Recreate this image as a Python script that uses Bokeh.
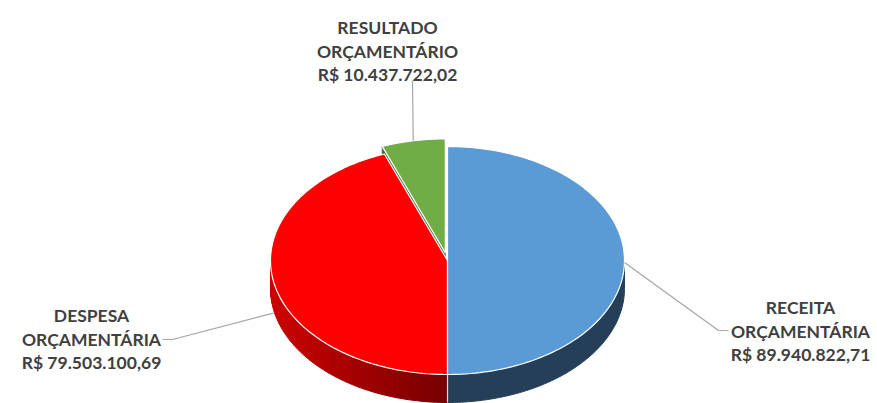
import numpy as np
from bokeh.plotting import figure
from bokeh.models import Range1d
from bokeh.embed import file_html
from bokeh.resources import INLINE
from bokeh.core.properties import value

# ---- data ----
categories = ["RECEITA", "DESPESA", "RESULTADO"]
label_line2 = ["ORÇAMENTÁRIA", "ORÇAMENTÁRIA", "ORÇAMENTÁRIO"]
values = [89940822.71, 79503100.69, 10437722.02]

# ---- style / layout ----
top_colors = ["#5B9BD5", "#FF0000", "#70AD47"]
cut_colors = ["#2A4A6A", "#8A0000", "#3F6A27"]
explode = [0, 0, 12]
W, H = 877, 403
cx, cy, rx, ry, depth = 447, 260, 177, 114, 28
label_pos = [(800, 307), (91, 315), (387, 27)]   # centre x, baseline of first line
elbow = [((728, 330), (718, 330)), ((162, 339), (172, 339)), ((412, 80), (412, 80))]
anchor_drop = [2, 32, 0]
line_gap = 23.5


def fmt_brl(v):
    s = f"{v:,.2f}"
    return "R$ " + s.replace(",", "X").replace(".", ",").replace("X", ".")


def pt(theta, dx=0.0, dy=0.0, down=0.0):
    t = np.radians(theta)
    return cx + dx + rx * np.sin(t), cy + dy - ry * np.cos(t) + down


vals = np.array(values, dtype=float)
spans = vals / vals.sum() * 360.0
starts = np.concatenate([[0], np.cumsum(spans)[:-1]])
ends = starts + spans
mids = (starts + ends) / 2

offsets = []
for i in range(3):
    m = np.radians(mids[i])
    offsets.append((explode[i] * np.sin(m), -explode[i] * (ry / rx) * np.cos(m)))

p = figure(width=W, height=H, x_range=Range1d(0, W), y_range=Range1d(H, 0),
           output_backend="svg", toolbar_location=None, min_border=0)
p.axis.visible = False
p.grid.visible = False
p.outline_line_color = None
p.background_fill_color = "white"
p.border_fill_color = "white"


def lerp_hex(c1, c2, f):
    a = [int(c1[i:i + 2], 16) for i in (1, 3, 5)]
    b = [int(c2[i:i + 2], 16) for i in (1, 3, 5)]
    return "#" + "".join(f"{int(round(a[k] + (b[k] - a[k]) * f)):02x}" for k in range(3))


order = [2, 1, 0]
for i in order:
    dx, dy = offsets[i]
    a, b = starts[i], ends[i]
    lo, hi = max(a, 90), min(b, 270)
    if hi > lo:
        if i == 1:
            n = 60
            ts = np.linspace(lo, hi, n + 1)
            xs, ys, cols = [], [], []
            for k in range(n):
                x1, y1 = pt(ts[k], dx, dy)
                x2, y2 = pt(ts[k + 1], dx, dy)
                xs.append([x1, x2, x2, x1])
                ys.append([y1, y2, y2 + depth, y1 + depth])
                f = ((x1 + x2) / 2 - (cx - rx)) / rx
                cols.append(lerp_hex("#CC0000", "#760000", min(max(f, 0), 1)))
            p.patches(xs, ys, fill_color=cols, line_color=cols, line_width=1)
        else:
            ts = np.linspace(lo, hi, 80)
            tx, ty = pt(ts, dx, dy)
            xs = list(tx) + list(tx[::-1])
            ys = list(ty) + list((ty + depth)[::-1])
            p.patch(xs, ys, fill_color="#253F58", line_color="#253F58", line_width=1)
    if i == 2:
        ex, ey = pt(a, dx, dy)
        p.patch([cx + dx, ex, ex, cx + dx], [cy + dy, ey, ey + depth, cy + dy + depth],
                fill_color=cut_colors[i], line_color="#555555", line_width=0.8)
    ts = np.linspace(a, b, 120)
    tx, ty = pt(ts, dx, dy)
    p.patch([cx + dx] + list(tx), [cy + dy] + list(ty),
            fill_color=top_colors[i], line_color="white", line_width=1.2)

bx, by = pt(180)
p.line([bx, bx], [by, by + depth], line_color="#DDDDDD", line_width=1.2)

for i in range(3):
    dx, dy = offsets[i]
    ax, ay = pt(mids[i], dx, dy, anchor_drop[i])
    (x0, y0), (x1, y1) = elbow[i]
    p.line([x0, x1, ax], [y0, y1, ay], line_color="#A6A6A6", line_width=1.2)

for i in range(3):
    lx, ly = label_pos[i]
    lines = [categories[i], label_line2[i], fmt_brl(values[i])]
    p.text(x=[lx] * 3, y=[ly + k * line_gap for k in range(3)], text=lines,
           text_font=value("Lato"), text_font_style="bold", text_font_size="17.5px",
           text_color="#404040", text_align="center", text_baseline="alphabetic")

open("out.html", "w").write(file_html(p, INLINE))
